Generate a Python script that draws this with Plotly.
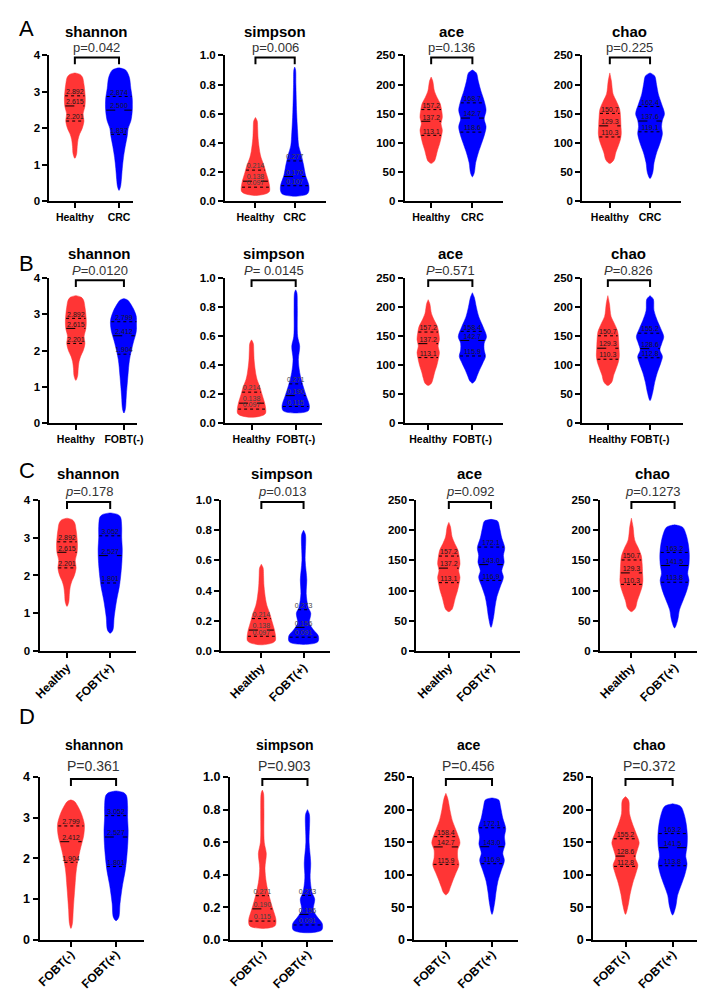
""" Alpha diversity violin panels (shannon / simpson / ace / chao), rows A-D """

import numpy as np
import plotly.graph_objects as go

W, H = 705, 993

metrics = ["shannon", "simpson", "ace", "chao"]
y_max = [4, 1.0, 250, 250]
y_dtick = [1, 0.2, 50, 50]

# violin outlines: value levels (bottom -> top) and relative half-width
healthy_levels = {
    "shannon": [1.18, 1.3, 1.5, 1.7, 1.85, 2.0, 2.2, 2.4, 2.6, 2.8, 3.0, 3.2, 3.4, 3.48, 3.52],
    "simpson": [0.04, 0.055, 0.07, 0.1, 0.135, 0.17, 0.2, 0.24, 0.27, 0.3, 0.34, 0.43, 0.5, 0.55, 0.575],
    "ace": [65, 69, 77, 88, 99, 111, 122, 133, 144, 156, 167, 178, 189, 206, 213],
    "chao": [65, 71, 83, 94, 105, 116, 128, 144, 158, 172, 184, 206, 220],
}
healthy_widths = {
    "shannon": [0.0, 0.12, 0.16, 0.22, 0.33, 0.5, 0.62, 0.56, 0.68, 0.71, 0.68, 0.62, 0.52, 0.35, 0.0],
    "simpson": [0.0, 0.8, 0.96, 0.96, 0.9, 0.8, 0.71, 0.6, 0.49, 0.38, 0.29, 0.18, 0.15, 0.12, 0.0],
    "ace": [0.0, 0.22, 0.33, 0.44, 0.58, 0.69, 0.76, 0.67, 0.76, 0.71, 0.62, 0.4, 0.22, 0.11, 0.0],
    "chao": [0.0, 0.27, 0.4, 0.56, 0.71, 0.78, 0.76, 0.73, 0.67, 0.44, 0.22, 0.11, 0.0],
}
healthy_quart = {
    "shannon": [2.201, 2.615, 2.892],
    "simpson": [0.097, 0.138, 0.214],
    "ace": [113.1, 137.2, 157.2],
    "chao": [110.3, 129.3, 150.7],
}

crc_levels = {
    "shannon": [0.3, 0.4, 0.6, 0.9, 1.2, 1.5, 1.8, 2.0, 2.2, 2.5, 2.8, 3.1, 3.4, 3.6, 3.66],
    "simpson": [0.035, 0.05, 0.07, 0.11, 0.18, 0.25, 0.32, 0.38, 0.47, 0.61, 0.8, 0.9, 0.92],
    "ace": [42, 49, 66, 83, 99, 116, 128, 141, 156, 172, 189, 206, 220, 225],
    "chao": [39, 49, 66, 83, 99, 116, 128, 139, 150, 167, 184, 200, 215, 220],
}
crc_widths = {
    "shannon": [0.0, 0.1, 0.16, 0.22, 0.3, 0.42, 0.56, 0.62, 0.8, 0.91, 0.91, 0.8, 0.7, 0.45, 0.0],
    "simpson": [0.0, 0.85, 0.96, 0.96, 0.73, 0.6, 0.44, 0.27, 0.2, 0.13, 0.08, 0.06, 0.0],
    "ace": [0.0, 0.13, 0.22, 0.4, 0.62, 0.84, 0.93, 0.8, 0.93, 0.8, 0.58, 0.4, 0.27, 0.0],
    "chao": [0.0, 0.18, 0.27, 0.44, 0.67, 0.84, 0.78, 0.84, 0.98, 0.78, 0.56, 0.44, 0.31, 0.0],
}
crc_quart = {
    "shannon": [1.837, 2.500, 2.874],
    "simpson": [0.107, 0.170, 0.277],
    "ace": [118.6, 142.7, 168.7],
    "chao": [119.1, 137.6, 162.4],
}

fobt_neg_levels = {
    "shannon": [0.28, 0.4, 0.75, 1.3, 1.75, 2.2, 2.57, 2.84, 3.1, 3.3, 3.4, 3.44],
    "simpson": [0.07, 0.085, 0.12, 0.19, 0.26, 0.35, 0.44, 0.53, 0.6, 0.8, 0.9, 0.92],
    "ace": [69, 73, 81, 92, 104, 115, 126, 138, 149, 166, 183, 200, 217, 225],
    "chao": [39, 53, 70, 87, 104, 115, 126, 138, 149, 163, 177, 194, 214, 220],
}
fobt_neg_widths = {
    "shannon": [0.0, 0.1, 0.16, 0.27, 0.38, 0.62, 0.87, 0.91, 0.71, 0.44, 0.25, 0.0],
    "simpson": [0.0, 0.85, 0.93, 0.71, 0.49, 0.27, 0.18, 0.27, 0.13, 0.11, 0.08, 0.0],
    "ace": [0.0, 0.18, 0.31, 0.49, 0.71, 0.89, 0.8, 0.8, 0.96, 0.73, 0.44, 0.27, 0.13, 0.0],
    "chao": [0.0, 0.18, 0.31, 0.49, 0.73, 0.84, 0.67, 0.8, 0.93, 0.73, 0.49, 0.27, 0.22, 0.0],
}
fobt_neg_quart = {
    "shannon": [1.904, 2.412, 2.799],
    "simpson": [0.115, 0.190, 0.271],
    "ace": [115.9, 142.7, 158.4],
    "chao": [112.8, 128.6, 155.2],
}

fobt_pos_levels = {
    "shannon": [0.47, 0.55, 0.9, 1.35, 1.7, 2.05, 2.4, 2.7, 3.0, 3.3, 3.55, 3.62, 3.66],
    "simpson": [0.043, 0.06, 0.1, 0.14, 0.185, 0.25, 0.29, 0.38, 0.47, 0.6, 0.77, 0.8],
    "ace": [39, 57, 73, 90, 106, 122, 133, 147, 158, 171, 187, 204, 215, 218],
    "chao": [38, 52, 68, 84, 101, 117, 128, 144, 160, 177, 193, 205, 209],
}
fobt_pos_widths = {
    "shannon": [0.0, 0.18, 0.27, 0.44, 0.62, 0.73, 0.8, 0.82, 0.78, 0.78, 0.7, 0.5, 0.0],
    "simpson": [0.0, 0.97, 1.0, 0.67, 0.4, 0.49, 0.31, 0.18, 0.22, 0.11, 0.13, 0.0],
    "ace": [0.0, 0.18, 0.27, 0.4, 0.62, 0.84, 0.73, 0.89, 0.84, 0.93, 0.73, 0.58, 0.45, 0.0],
    "chao": [0.0, 0.22, 0.33, 0.58, 0.84, 0.98, 0.89, 0.98, 1.0, 0.93, 0.78, 0.55, 0.0],
}
fobt_pos_quart = {
    "shannon": [1.801, 2.527, 3.052],
    "simpson": [0.091, 0.156, 0.273],
    "ace": [116.9, 143.0, 172.1],
    "chao": [113.8, 141.5, 163.2],
}

row_groups = [["Healthy", "CRC"], ["Healthy", "FOBT(-)"], ["Healthy", "FOBT(+)"], ["FOBT(-)", "FOBT(+)"]]
row_letters = ["A", "B", "C", "D"]
p_row_a = ["p=0.042", "p=0.006", "p=0.136", "p=0.225"]
p_row_b = ["<i>P</i>=0.0120", "<i>P</i>= 0.0145", "<i>P</i>=0.571", "<i>P</i>=0.826"]
p_row_c = ["<i>p</i>=0.178", "<i>p</i>=0.013", "<i>p</i>=0.092", "<i>p</i>=0.1273"]
p_row_d = ["P=0.361", "P=0.903", "P=0.456", "P=0.372"]
p_rows = [p_row_a, p_row_b, p_row_c, p_row_d]

LEVELS = {"Healthy": healthy_levels, "CRC": crc_levels, "FOBT(-)": fobt_neg_levels, "FOBT(+)": fobt_pos_levels}
WIDTHS = {"Healthy": healthy_widths, "CRC": crc_widths, "FOBT(-)": fobt_neg_widths, "FOBT(+)": fobt_pos_widths}
QUART = {"Healthy": healthy_quart, "CRC": crc_quart, "FOBT(-)": fobt_neg_quart, "FOBT(+)": fobt_pos_quart}

# ---- layout (pixels in the 705x993 page) ----
ROW_TOP = [41, 267, 492, 773]
ROW_BOTTOM = [189, 414, 645, 938]
TITLE_Y = [17, 242, 465, 740]
PVAL_Y = [33, 259, 483, 762]
LETTER_Y = [14, 252, 462, 712]
# (y-axis x, violin 1 x, violin 2 x, x-axis end)
PANEL_PX = [
    [(36, 62, 107, 121), (215, 246, 286, 318), (398, 425, 467, 498), (579, 607, 648, 680)],
    [(36, 63, 112, 125), (215, 242, 287, 314), (398, 422, 467, 498), (579, 605, 648, 682)],
    [(26, 54, 98, 124), (211, 252, 295, 322), (410, 443, 486, 515), (597, 629, 673, 702)],
    [(26, 58, 104, 132), (220, 253, 299, 325), (408, 440, 487, 513), (590, 623, 671, 698)],
]
TITLE_SIZE = [15, 15, 15, 14]
P_SIZE = [13, 13, 13, 14]
XTICK_SIZE = [10.5, 10.5, 12, 12]
XTICK_STANDOFF = [0, 0, -2, -4]
YTICK_SIZE = [11.5, 11.5, 11.5, 12.5]
TICK_ANGLE = [0, 0, -45, -45]
HALF_PX = 15
RED = "#ff3535"
BLUE = "#0000ff"
FONT = "Liberation Sans, Arial, sans-serif"


def main():
    fig = go.Figure()
    k = 0
    for r in range(4):
        groups = row_groups[r]
        for c, m in enumerate(metrics):
            k += 1
            L, v1, v2, R = PANEL_PX[r][c]
            unit = v2 - v1
            xa = "x" if k == 1 else f"x{k}"
            ya = "y" if k == 1 else f"y{k}"

            for pos, g, col in ((1, groups[0], RED), (2, groups[1], BLUE)):
                lv = np.array(LEVELS[g][m], dtype=float)
                wd = np.array(WIDTHS[g][m]) * HALF_PX / unit
                xs = np.concatenate([pos + wd, (pos - wd)[::-1]])
                ys = np.concatenate([lv, lv[::-1]])
                fig.add_trace(go.Scatter(
                    x=xs, y=ys, mode="lines", fill="toself", fillcolor=col,
                    line=dict(color=col, width=0.5, shape="spline", smoothing=0.9),
                    xaxis=xa, yaxis=ya, hoverinfo="skip", showlegend=False))
                qs = QUART[g][m]
                for i, q in enumerate(qs):
                    hw = np.interp(q, lv, wd) * 0.95
                    fig.add_trace(go.Scatter(
                        x=[pos - hw, pos + hw], y=[q, q], mode="lines",
                        line=dict(color="black", width=1, dash="dash" if i == 1 else "dot"),
                        xaxis=xa, yaxis=ya, hoverinfo="skip", showlegend=False))
                fmt = "{:.1f}" if m in ("ace", "chao") else "{:.3f}"
                fig.add_trace(go.Scatter(
                    x=[pos] * 3, y=qs, mode="text", text=[fmt.format(q) for q in qs],
                    textposition="top center",
                    textfont=dict(size=7, color="#444" if m == "simpson" else "#1a1a1a", family=FONT),
                    xaxis=xa, yaxis=ya, hoverinfo="skip", showlegend=False, cliponaxis=False))

            lo = 1 - (v1 - L) / unit
            hi = 2 + (R - v2) / unit
            xname = "xaxis" if k == 1 else f"xaxis{k}"
            yname = "yaxis" if k == 1 else f"yaxis{k}"
            fig.layout[xname] = dict(
                domain=[L / W, R / W], range=[lo, hi], anchor=ya,
                tickvals=[1, 2], ticktext=groups, tickangle=TICK_ANGLE[r],
                ticklabelstandoff=XTICK_STANDOFF[r],
                tickfont=dict(size=XTICK_SIZE[r], color="black", family=FONT, weight="bold"),
                showline=True, linewidth=2, linecolor="black",
                ticks="outside", ticklen=5, tickwidth=2, tickcolor="black",
                showgrid=False, zeroline=False, fixedrange=True)
            fig.layout[yname] = dict(
                domain=[1 - ROW_BOTTOM[r] / H, 1 - ROW_TOP[r] / H], range=[0, y_max[c]], anchor=xa,
                dtick=y_dtick[c], tick0=0, tickformat=".1f" if m == "simpson" else "d",
                tickfont=dict(size=YTICK_SIZE[r], color="black", family=FONT, weight="bold"),
                showline=True, linewidth=2, linecolor="black",
                ticks="outside", ticklen=5, tickwidth=2, tickcolor="black",
                showgrid=False, zeroline=False, fixedrange=True)

            # title, p value and bracket
            cx = (v1 + v2) / 2 / W
            fig.add_annotation(x=cx, y=1 - TITLE_Y[r] / H, xref="paper", yref="paper",
                               text=f"<b>{m}</b>", showarrow=False, xanchor="center", yanchor="middle",
                               font=dict(size=TITLE_SIZE[r], color="black", family=FONT))
            fig.add_annotation(x=cx, y=1 - PVAL_Y[r] / H, xref="paper", yref="paper",
                               text=p_rows[r][c], showarrow=False, xanchor="center", yanchor="middle",
                               font=dict(size=P_SIZE[r], color="#333", family=FONT))
            yt = 1 - (ROW_TOP[r] + 2) / H
            yb = 1 - (ROW_TOP[r] + 9) / H
            x1, x2 = v1 / W, v2 / W
            fig.add_shape(type="path", xref="paper", yref="paper",
                          path=f"M {x1},{yb} L {x1},{yt} L {x2},{yt} L {x2},{yb}",
                          line=dict(color="black", width=2))

        fig.add_annotation(x=3 / W, y=1 - LETTER_Y[r] / H, xref="paper", yref="paper",
                           text=row_letters[r], showarrow=False, xanchor="left", yanchor="middle",
                           font=dict(size=22, color="black", family=FONT))

    fig.update_layout(width=W, height=H, margin=dict(l=0, r=0, t=0, b=0),
                      plot_bgcolor="white", paper_bgcolor="white", showlegend=False)
    fig.write_html("out.html")


if __name__ == "__main__":
    main()
